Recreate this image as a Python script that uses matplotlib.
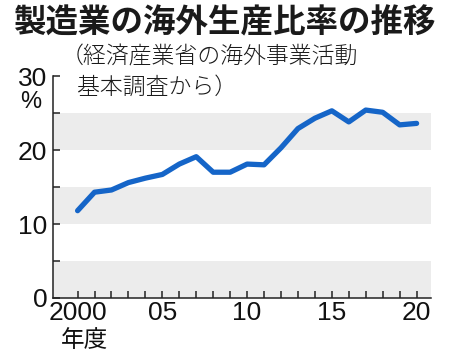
import matplotlib
matplotlib.use("Agg")
import matplotlib.pyplot as plt

plt.rcParams['font.family'] = ['Noto Sans CJK JP', 'DejaVu Sans']

years = list(range(2000, 2021))
ratio = [11.8, 14.3, 14.6, 15.6, 16.2, 16.7, 18.1, 19.1, 17.0, 17.0, 18.1,
         18.0, 20.3, 22.9, 24.3, 25.3, 23.8, 25.4, 25.1, 23.4, 23.6]
xtick_pos = [2000, 2005, 2010, 2015, 2020]
xtick_labels = ['2000', '05', '10', '15', '20']
bands = [(0, 5), (10, 15), (20, 25)]

fig = plt.figure(figsize=(4.5, 3.58), dpi=100)
ax = fig.add_axes([0.1178, 0.1676, 0.840, 0.620])

for lo, hi in bands:
    ax.axhspan(lo, hi, color='#ececec', lw=0, zorder=0)

ax.plot(years, ratio, color='#1565c8', lw=3.8, solid_capstyle='round',
        solid_joinstyle='round', zorder=3)

ax.set_xlim(1998.55, 2020.85)
ax.set_ylim(0, 30)
ax.spines['top'].set_visible(False)
ax.spines['right'].set_visible(False)
for s in ('left', 'bottom'):
    ax.spines[s].set_linewidth(1.1)
    ax.spines[s].set_color('#222222')

ax.set_xticks(years)
ax.set_xticklabels([xtick_labels[xtick_pos.index(y)] if y in xtick_pos else '' for y in years])
ax.set_yticks(range(0, 31, 5))
ax.set_yticklabels(['0', '', '10', '', '20', '', '30'])
ax.tick_params(axis='both', direction='in', length=5, width=1.1, color='#222222',
               labelsize=19, pad=2)
ax.tick_params(axis='y', pad=4)
for lab in ax.get_xticklabels() + ax.get_yticklabels():
    lab.set_family(['Liberation Sans', 'DejaVu Sans'])
    lab.set_color('#111111')

fig.text(0.045, 0.715, '%', fontsize=17, family=['Liberation Sans'], color='#111111',
         ha='left', va='center')
fig.text(0.135, 0.05, '年度', fontsize=17, color='#111111', ha='left', va='center')

fig.text(0.03, 0.935, '製造業の海外生産比率の推移', fontsize=23.4, fontweight='bold',
         color='#1a1a1a', ha='left', va='center')
fig.text(0.135, 0.84, '（経済産業省の海外事業活動', fontsize=16.5, color='#1a1a1a',
         ha='left', va='center', fontweight='light')
fig.text(0.172, 0.755, '基本調査から）', fontsize=16.5, color='#1a1a1a',
         ha='left', va='center', fontweight='light')

fig.savefig('out.png', dpi=100)
